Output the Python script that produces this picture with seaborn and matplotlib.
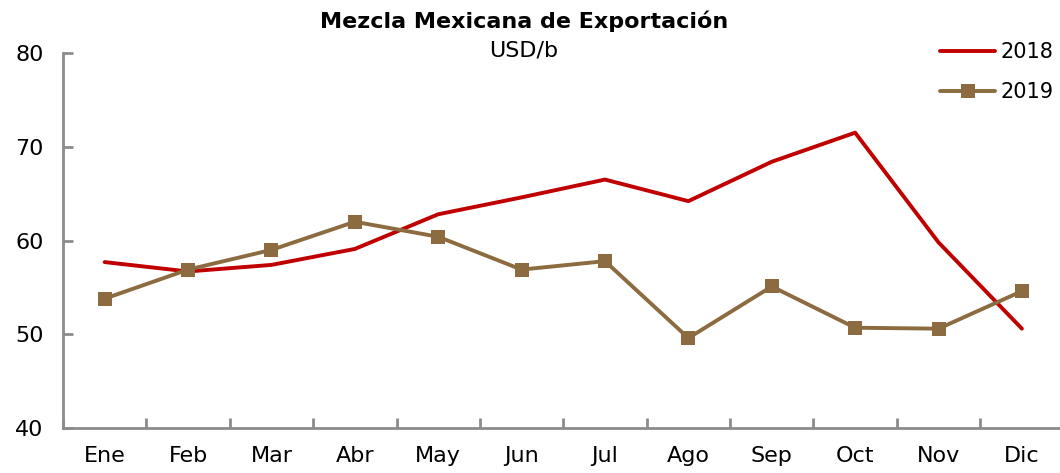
import matplotlib
matplotlib.use("Agg")
import matplotlib.pyplot as plt
import seaborn as sns
import pandas as pd

months = ["Ene", "Feb", "Mar", "Abr", "May", "Jun", "Jul", "Ago", "Sep", "Oct", "Nov", "Dic"]
v2018 = [57.7, 56.7, 57.4, 59.1, 62.8, 64.6, 66.5, 64.2, 68.4, 71.5, 59.8, 50.6]
v2019 = [53.8, 56.9, 59.0, 62.0, 60.4, 56.9, 57.8, 49.6, 55.1, 50.7, 50.6, 54.6]
yticks = [40, 50, 60, 70, 80]

sns.set_theme(style="white")
plt.rcParams['font.family'] = ['DejaVu Sans']
plt.rcParams['text.color'] = 'black'

fig = plt.figure(figsize=(10.6, 4.73), dpi=100)
ax = fig.add_axes([0.0594, 0.095, 0.944, 0.793])

df18 = pd.DataFrame({"mes": months, "v": v2018})
df19 = pd.DataFrame({"mes": months, "v": v2019})
sns.lineplot(data=df18, x="mes", y="v", ax=ax, color="#C00000", linewidth=2.8, sort=False, label="2018")
sns.lineplot(data=df19, x="mes", y="v", ax=ax, color="#8B6B3F", linewidth=2.8, sort=False,
             marker="s", markersize=10, markeredgewidth=0, label="2019")

ax.set_xlim(-0.5, 11.5)
ax.set_ylim(40, 80)
ax.set_yticks(yticks)
ax.set_xticks(range(len(months)))
ax.set_xticklabels(months)
ax.set_xlabel("")
ax.set_ylabel("")
for s in ["top", "right"]:
    ax.spines[s].set_visible(False)
for s in ["left", "bottom"]:
    ax.spines[s].set_color("#8C8C8C")
    ax.spines[s].set_linewidth(2)
ax.tick_params(axis="x", which="major", labelsize=16, labelcolor="black", length=0, pad=13, bottom=True)
ax.tick_params(axis="y", which="major", labelsize=16, labelcolor="black", direction="in",
               length=7, width=2, color="#8C8C8C", pad=14, left=True)
# minor ticks at category boundaries
ax.set_xticks([i + 0.5 for i in range(-1, 12)], minor=True)
ax.tick_params(axis="x", which="minor", direction="in", length=7, width=2, color="#8C8C8C", bottom=True)

ax.legend_.remove()
h, l = ax.get_legend_handles_labels()
leg = fig.legend(h, l, loc="upper right", bbox_to_anchor=(1.012, 0.95), frameon=False,
                 fontsize=15, handlelength=2.6, handletextpad=0.3, labelspacing=0.95)
for t in leg.get_texts():
    t.set_color("black")

fig.text(0.494, 0.955, "Mezcla Mexicana de Exportación", ha="center", va="center",
         fontsize=16, fontweight="bold", color="black")
fig.text(0.494, 0.893, "USD/b", ha="center", va="center", fontsize=16, color="black")

fig.savefig("out.png", dpi=100)
